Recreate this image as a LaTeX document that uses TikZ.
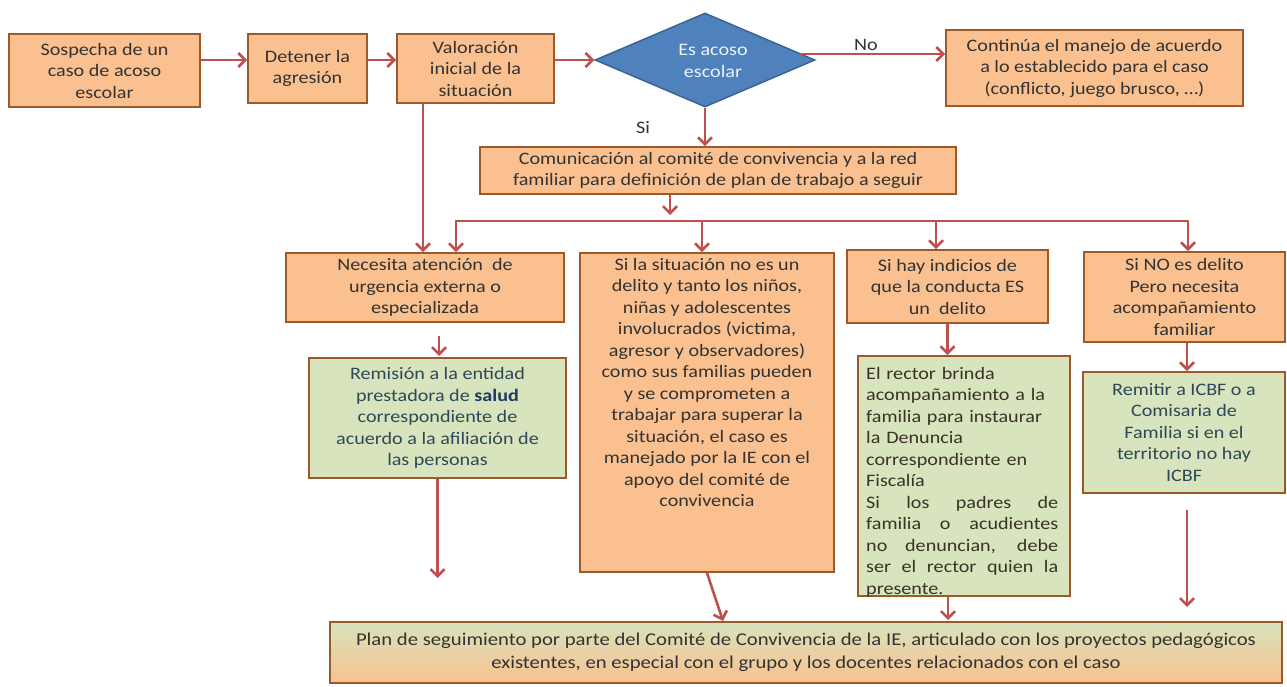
\documentclass[tikz,border=0pt]{standalone}
\usepackage{fontspec}
\setmainfont{Carlito}[FakeStretch=1.15]
\newfontfamily\planfont{Carlito}[FakeStretch=1.15]
\usetikzlibrary{shapes.geometric,arrows.meta,calc}
\definecolor{ofill}{HTML}{FAC08F}
\definecolor{gfill}{HTML}{D7E4BD}
\definecolor{bord}{HTML}{9C5A2A}
\definecolor{arrc}{HTML}{C0504D}
\definecolor{txt}{HTML}{333333}
\definecolor{gtxt}{HTML}{2F4858}
\definecolor{rtxt}{HTML}{3A3226}
\definecolor{sal}{HTML}{1F3864}
\definecolor{dfill}{HTML}{4F81BD}
\definecolor{dbord}{HTML}{3A6496}
\definecolor{dtxt}{HTML}{EEF2FA}
\newcommand{\jline}[1]{\leavevmode\hbox to 192pt{\spaceskip=0.25em plus 1fil\relax #1}}
\begin{document}
\begin{tikzpicture}[x=1pt,y=-1pt,
  every node/.style={font=\fontsize{17.5}{21.5}\selectfont},
  obox/.style={draw=bord, fill=ofill, line width=1.8pt, inner sep=0pt, align=center, text=txt},
  gbox/.style={draw=bord, fill=gfill, line width=1.8pt, inner sep=0pt, align=center, text=gtxt},
  ln/.style={draw=arrc, line width=2.6pt},
  arr/.style={ln, -{Straight Barb[length=7pt,width=14pt,line width=2.6pt]}},
  lbl/.style={text=txt, inner sep=0pt}]
\fill[white] (0,0) rectangle (1287,687);
\useasboundingbox (0,0) rectangle (1287,687);

% top row
\node[obox, minimum width=191pt, minimum height=73pt] (sos) at (104.5,70.5) {Sospecha de un\\caso de acoso\\escolar};
\node[obox, minimum width=119pt, minimum height=69pt] (det) at (307.5,68.5) {Detener la\\agresión};
\node[obox, minimum width=157pt, minimum height=69pt] (val) at (475.5,68.5) {Valoración\\inicial de la\\situación};
\node[diamond, draw=dbord, fill=dfill, line width=1.5pt, minimum width=220pt, minimum height=94pt, inner sep=0pt] (dia) at (705,60) {};
\node[text=dtxt, align=center, inner sep=0pt] (diat) at (713,61) {Es acoso\\escolar};
\node[obox, minimum width=297pt, minimum height=76pt] (cont) at (1094.5,68) {Continúa el manejo de acuerdo\\a lo establecido para el caso\\(conflicto, juego brusco, \dots)};
\node[lbl] (nolab) at (866,45) {No};
\node[lbl] (silab) at (643,128) {Si};

\node[obox, minimum width=476pt, minimum height=47pt] (com) at (718,170.5) {Comunicación al comité de convivencia y a la red\\familiar para definición de plan de trabajo a seguir};

% second row
\node[obox, minimum width=278pt, minimum height=69pt] (nec) at (425,287.5) {Necesita atención \ de\\urgencia externa o\\especializada};
\node[obox, minimum width=254pt, minimum height=319pt] (sit) at (707,412.5) {};
\node[text=txt, align=center, inner sep=0pt, anchor=north] (sitt) at (707,258) {Si la situación no es un\\delito y tanto los niños,\\niñas y adolescentes\\involucrados (victima,\\agresor y observadores)\\como sus familias pueden\\y se comprometen a\\trabajar para superar la\\situación, el caso es\\manejado por la IE con el\\apoyo del comité de\\convivencia};
\node[obox, minimum width=201pt, minimum height=73pt] (ind) at (947.5,286.5) {Si hay indicios de\\que la conducta ES\\un \ delito};
\node[obox, minimum width=201pt, minimum height=90pt] (sno) at (1184.5,297) {Si NO es delito\\Pero necesita\\acompañamiento\\familiar};

% third row
\node[gbox, minimum width=257pt, minimum height=120pt] (rem) at (437.5,418) {Remisión a la entidad\\prestadora de {\bfseries\color{sal}salud}\\correspondiente de\\acuerdo a la afiliación de\\las personas};
\node[gbox, minimum width=212pt, minimum height=240pt] (rec) at (964,476) {};
\node[text=rtxt, align=left, text width=192pt, inner sep=0pt, anchor=north west] (rect) at (866,367) {El rector brinda\\acompañamiento a la\\familia para instaurar\\la Denuncia\\correspondiente en\\Fiscalía\\\jline{Si los padres de}\\\jline{familia o acudientes}\\\jline{no denuncian, debe}\\\jline{ser el rector quien la}\\presente.};
\node[gbox, minimum width=202pt, minimum height=121pt] (rmt) at (1184,432.5) {Remitir a ICBF o a\\Comisaria de\\Familia si en el\\territorio no hay\\ICBF};

% bottom
\node[draw=bord, line width=1.8pt, top color=gfill, bottom color=ofill, minimum width=952pt, minimum height=61pt, inner sep=0pt, align=center, text=txt, font=\planfont\fontsize{18}{23}\selectfont] (plan) at (806,652.5) {Plan de seguimiento por parte del Comité de Convivencia de la IE, articulado con los proyectos pedagógicos\\existentes, en especial con el grupo y los docentes relacionados con el caso};

% coordinates
\coordinate (noS) at (800,54);
\coordinate (br) at (670,215);
\coordinate (b1) at (456,221);
\coordinate (b2) at (702,221);
\coordinate (b3) at (936,221);
\coordinate (b4) at (1188,221);
\coordinate (vl) at (423,0);
\coordinate (n1) at (439,336);
\coordinate (n2) at (439,356);
\coordinate (r1) at (437.5,578);
\coordinate (p2) at (723,621);
\coordinate (p3) at (948,620);
\coordinate (m1) at (1187,510);
\coordinate (m2) at (1187,607);

% connectors
\draw[arr] (sos.east |- dia) -- (det.west |- dia);
\draw[arr] (det.east |- dia) -- (val.west |- dia);
\draw[arr] (val.east |- dia) -- (dia.west);
\draw[arr] (noS) -- (cont.west |- noS);
\draw[arr] (dia.south) -- (dia.south |- com.north);
\draw[arr] (com.south -| br) -- (br);
\draw[ln, line cap=round] (b1) -- (b4);
\draw[arr] (b1) -- (b1 |- nec.north);
\draw[arr] (b2) -- (b2 |- sit.north);
\draw[arr] (b3) -- (b3 |- ind.north);
\draw[arr] (b4) -- (b4 |- sno.north);
\draw[arr] (val.south -| vl) -- (nec.north -| vl);
\draw[arr] (n1) -- (n2);
\draw[arr] (rem.south) -- (r1);
\draw[arr] (sit.south) -- (p2);
\draw[arr] (ind.south) -- (ind.south |- rec.north);
\draw[arr] (rec.south -| p3) -- (p3);
\draw[arr] (sno.south -| m1) -- (m1 |- rmt.north);
\draw[arr] (m1) -- (m2);
\end{tikzpicture}
\end{document}
